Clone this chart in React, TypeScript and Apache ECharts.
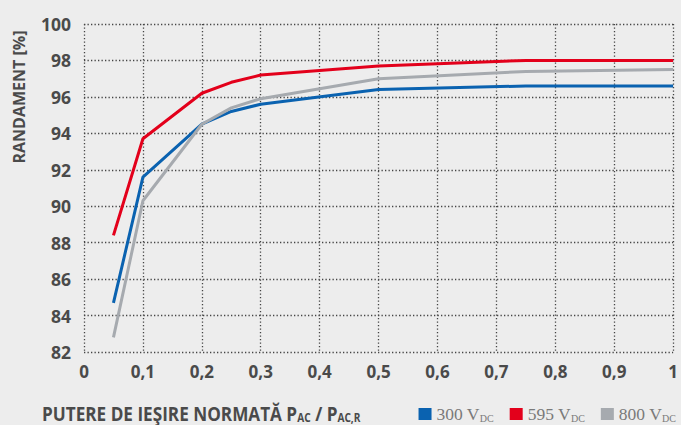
import React, { useEffect, useRef } from "react";
import * as echarts from "echarts";

const xValues = [0.05, 0.1, 0.2, 0.25, 0.3, 0.5, 0.75, 1];
const series300 = [84.7, 91.6, 94.5, 95.2, 95.6, 96.4, 96.6, 96.6];
const series595 = [88.4, 93.7, 96.2, 96.8, 97.2, 97.7, 98.0, 98.0];
const series800 = [82.8, 90.3, 94.5, 95.4, 95.9, 97.0, 97.4, 97.5];
const seriesNames = ["300", "595", "800"];
const seriesColors = ["#0a62b0", "#e3001b", "#a6aaaf"];

const textColor = "#4a4a4a";

export default function App() {
  const ref = useRef<HTMLDivElement>(null);
  useEffect(() => {
    if (!ref.current) return;
    const chart = echarts.init(ref.current, null, { renderer: "svg" });
    const allData = [series300, series595, series800];
    chart.setOption({
      animation: false,
      backgroundColor: "#ededed",
      grid: { left: 84, right: 5, top: 24, bottom: 73, containLabel: false },
      xAxis: {
        type: "value",
        min: 0,
        max: 1,
        interval: 0.1,
        axisLine: { show: false },
        axisTick: { show: false },
        axisLabel: {
          color: textColor,
          fontFamily: "Open Sans",
          fontWeight: "bold",
          fontSize: 17,
          margin: 11,
          formatter: (v: number) =>
            v === 0 ? "0" : Math.abs(v - 1) < 1e-9 ? "1" : v.toFixed(1).replace(".", ","),
        },
        splitLine: {
          show: true,
          lineStyle: { color: "#444", width: 1.3, type: [1.3, 2.2] },
        },
      },
      yAxis: {
        type: "value",
        min: 82,
        max: 100,
        interval: 2,
        axisLine: { show: false },
        axisTick: { show: false },
        axisLabel: {
          color: textColor,
          fontFamily: "Open Sans",
          fontWeight: "bold",
          fontSize: 17.5,
          margin: 13,
        },
        splitLine: {
          show: true,
          lineStyle: { color: "#444", width: 1.3, type: [1.3, 2.2] },
        },
      },
      legend: {
        right: 0,
        top: 400,
        itemWidth: 13,
        itemHeight: 12,
        itemGap: 16,
        icon: "rect",
        data: seriesNames,
        formatter: (name: string) => `{v|${name} V}{s|DC}`,
        textStyle: {
          rich: {
            v: { fontFamily: "Liberation Serif", fontSize: 17.5, color: "#7a7a7a" },
            s: { fontFamily: "Liberation Serif", fontSize: 10, color: "#7a7a7a", padding: [8, 0, 0, 0] },
          },
        },
      },
      graphic: [
        {
          type: "text",
          x: 19,
          y: 97,
          rotation: Math.PI / 2,
          style: {
            text: "RANDAMENT [%]",
            fill: textColor,
            font: "bold 16px 'Open Sans'",
            align: "center",
            verticalAlign: "middle",
          },
        },
        {
          type: "text",
          x: 42,
          y: 413,
          scaleX: 0.88,
          style: {
            text: "{a|PUTERE DE IEŞIRE NORMATĂ P}{b|AC}{a| / P}{b|AC,R}",
            verticalAlign: "middle",
            rich: {
              a: { fontFamily: "Open Sans", fontWeight: "bold", fontSize: 19.5, fill: textColor },
              b: { fontFamily: "Open Sans", fontWeight: "bold", fontSize: 11.5, fill: textColor, padding: [8, 0, 0, 0] },
            },
          },
        },
      ],
      series: allData.map((d, i) => ({
        name: seriesNames[i],
        type: "line",
        data: d.map((y, j) => [xValues[j], y]),
        symbol: "none",
        lineStyle: { width: 3, color: seriesColors[i] },
        itemStyle: { color: seriesColors[i] },
      })),
    });
    return () => chart.dispose();
  }, []);
  return <div ref={ref} style={{ width: 681, height: 425, position: "absolute", left: 0, top: 0 }} />;
}
